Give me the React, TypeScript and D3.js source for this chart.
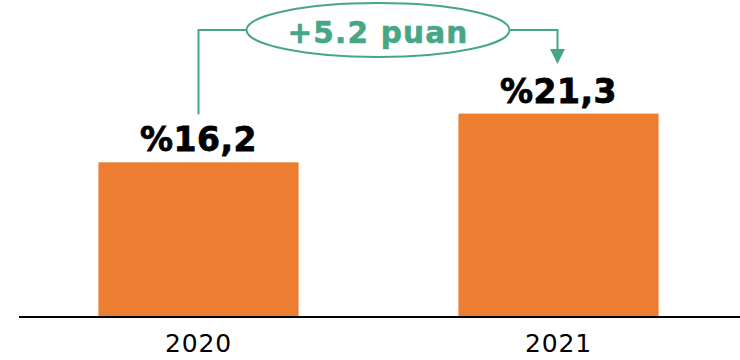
import React from "react";
import * as d3 from "d3";

const categories = ["2020", "2021"];
const values = [16.2, 21.3];
const valueLabels = ["%16,2", "%21,3"];
const changeLabel = "+5.2 puan";

const W = 740;
const H = 360;
const ORANGE = "#ED7D31";
const GREEN = "#47A685";

export default function App() {
  const x = d3.scaleBand<string>().domain(categories).range([18.5, 738.5]).paddingInner(0.444).paddingOuter(0.222);
  const y = d3.scaleLinear().domain([0, 33.2]).range([317, 0]);
  const bw = x.bandwidth();
  const cx = (c: string) => (x(c) as number) + bw / 2;

  const x1 = cx(categories[0]);
  const x2 = cx(categories[1]);
  const lab1 = y(values[0]) - 11;
  const lab2 = y(values[1]) - 11;
  const ey = 30;
  const ex = (x1 + x2) / 2 - 0.5;
  const erx = 131.5;
  const ery = 27;
  const tipY = lab2 - 38.5;

  return (
    <svg width={W} height={H} style={{ position: "absolute", left: 0, top: 0 }}>
      <rect width={W} height={H} fill="#fff" />
      {categories.map((c, i) => (
        <rect key={c} x={x(c)} y={y(values[i])} width={bw} height={y(0) - y(values[i])} fill={ORANGE} />
      ))}
      <line x1={19} x2={740} y1={y(0)} y2={y(0)} stroke="#000" strokeWidth={2} />
      {categories.map((c) => (
        <text key={"t" + c} x={cx(c)} y={351.5} textAnchor="middle" fontFamily="DejaVu Sans" fontSize={25} letterSpacing={0.8} fill="#000">
          {c}
        </text>
      ))}
      {categories.map((c, i) => (
        <text key={"v" + c} x={cx(c)} y={y(values[i]) - 11} textAnchor="middle" fontFamily="DejaVu Sans" fontWeight="bold" fontSize={33} letterSpacing={0.5} stroke="#000" strokeWidth={0.8} fill="#000">
          {valueLabels[i]}
        </text>
      ))}
      <path d={`M${x1},${lab1 - 37} V${ey} H${ex - erx}`} fill="none" stroke={GREEN} strokeWidth={2} />
      <path d={`M${ex + erx},${ey} H${x2 - 1} V${tipY - 14}`} fill="none" stroke={GREEN} strokeWidth={2} />
      <path d={`M${x2 - 8.5},${tipY - 15} L${x2 + 6.5},${tipY - 15} L${x2 - 1},${tipY} Z`} fill={GREEN} />
      <ellipse cx={ex} cy={ey} rx={erx} ry={ery} fill="#fff" stroke={GREEN} strokeWidth={2} />
      <text x={ex} y={ey + 13} textAnchor="middle" fontFamily="DejaVu Sans" fontWeight="bold" fontSize={29.5} letterSpacing={1.2} stroke={GREEN} strokeWidth={0.6} fill={GREEN}>
        {changeLabel}
      </text>
    </svg>
  );
}
